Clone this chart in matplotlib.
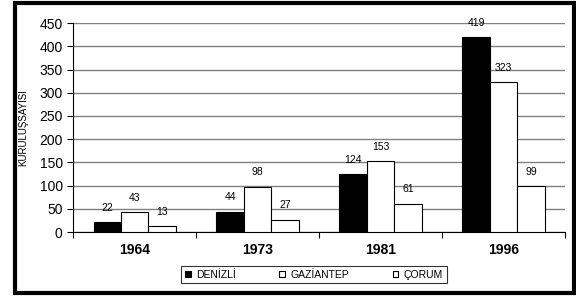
import numpy as np
import matplotlib.pyplot as plt
from matplotlib.patches import Rectangle

plt.rcParams['font.family'] = ['Liberation Sans', 'DejaVu Sans']

# data
years = ["1964", "1973", "1981", "1996"]
denizli = [22, 44, 124, 419]
gaziantep = [43, 98, 153, 323]
corum = [13, 27, 61, 99]
series_names = ["DENİZLİ", "GAZİANTEP", "ÇORUM"]

fig = plt.figure(figsize=(5.76, 2.96), dpi=100)
ax = fig.add_axes([0.127, 0.216, 0.854, 0.706])

x = np.arange(len(years))
w = 0.223
colors = ["black", "white", "white"]
for i, (vals, name) in enumerate(zip([denizli, gaziantep, corum], series_names)):
    pos = x + (i - 1) * w
    ax.bar(pos, vals, width=w, color=colors[i], edgecolor="black", linewidth=0.8,
           label=name, zorder=3)
    # value labels above the bars
    for p, v in zip(pos, vals):
        ax.text(p, v + 20, str(v), ha="center", va="bottom", fontsize=7.5, zorder=4)

ax.set_xlim(-0.5, len(years) - 0.5)
ax.set_ylim(0, 450)
ax.set_yticks(range(0, 451, 50))
ax.tick_params(axis="y", labelsize=10, length=4, width=0.8, direction="out")
ax.set_xticks(x)
ax.set_xticklabels(years, fontsize=10, fontweight="bold")
ax.tick_params(axis="x", length=0, pad=8)
# tick marks between category groups
ax.set_xticks(np.arange(-0.5, len(years)), minor=True)
ax.tick_params(axis="x", which="minor", length=4, width=0.8, direction="out")

ax.grid(axis="y", color="#808080", linewidth=1.0, zorder=0)
for s in ["top", "right"]:
    ax.spines[s].set_visible(False)
ax.spines["left"].set_linewidth(0.8)
ax.spines["bottom"].set_linewidth(0.8)

ax.set_ylabel("KURULUŞSAYISI", fontsize=7)
ax.yaxis.set_label_coords(-0.092, 0.5)

leg = ax.legend(loc="center", bbox_to_anchor=(0.545, 0.072), bbox_transform=fig.transFigure,
                ncol=3, fontsize=7.5, frameon=True, fancybox=False, handlelength=0.55,
                handleheight=0.55, columnspacing=4.2, borderpad=0.35, handletextpad=0.5)
leg.get_frame().set_edgecolor("black")
leg.get_frame().set_linewidth(0.8)

# thick border around the figure
fig.patches.append(Rectangle((15 / 576, 3 / 296), 559 / 576, 290 / 296, transform=fig.transFigure,
                             fill=False, edgecolor="black", linewidth=3))

fig.savefig("out.png", dpi=100)
